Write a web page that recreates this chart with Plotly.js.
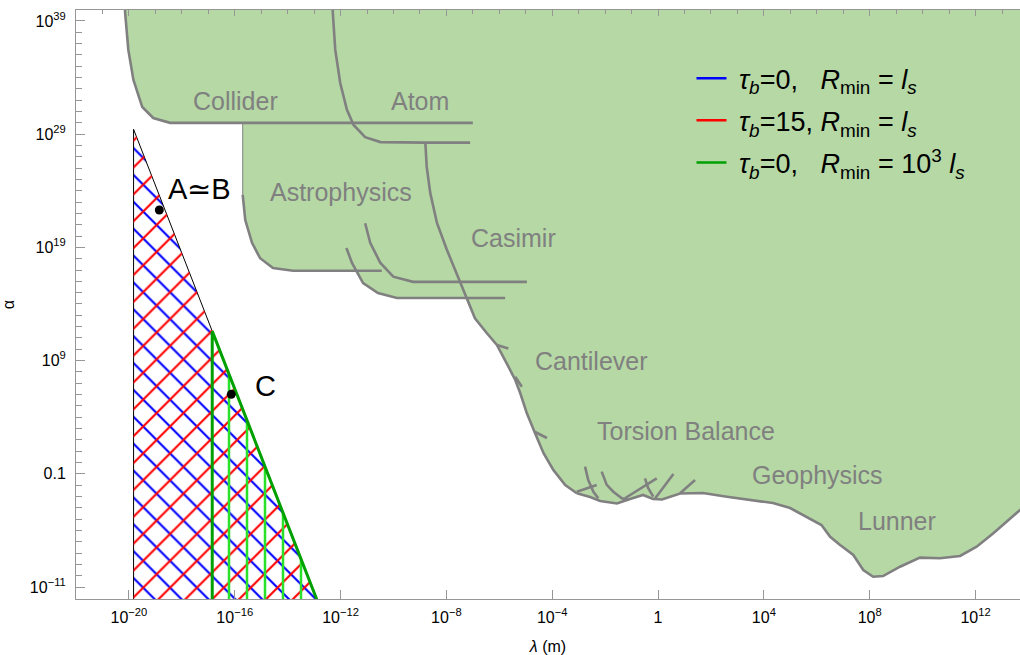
<!DOCTYPE html>
<html><head><meta charset="utf-8">
<script src="https://cdn.plot.ly/plotly-3.0.1.min.js"></script>
<style>html,body{margin:0;padding:0;background:#fff}#chart{width:1020px;height:655px}</style>
</head><body><div id="chart"></div>
<script>
// ---- experimental exclusion curves (lambda in m, alpha) ----
const colliderLambda = [7.0e-21, 7.2e-21, 9.5e-21, 1.48e-20, 3.2e-20, 8.3e-20, 3.6e-19, 1.0e-7];
const colliderAlpha  = [3e40, 5.1e39, 2.8e36, 6.2e33, 2.5e31, 2.7e30, 1e30, 1e30];

const atomLambda = [5.0e-13, 5.1e-13, 6.3e-13, 9.7e-13, 1.74e-12, 3.1e-12, 8.5e-12, 3.2e-11, 1.6e-9, 7.9e-8];
const atomAlpha  = [3e40, 4.8e39, 2.8e36, 3.3e33, 1.4e31, 6.5e29, 5.4e28, 2.0e28, 1.8e28, 1.8e28];

const astroLambda = [2.0e-16, 2.5e-16, 4.5e-16, 9.1e-16, 2.8e-15, 1.6e-14, 3.6e-11];
const astroAlpha  = [4.3e23, 2.6e21, 2.5e19, 1.1e18, 1.5e17, 8.7e16, 8.7e16];

const astroLowerALambda = [1.66e-12, 2.7e-12, 7.1e-12, 2.6e-11, 1.35e-10, 1.66e-6];
const astroLowerAAlpha  = [8.9e18, 4.2e17, 7.1e15, 9.3e14, 3.4e14, 3.4e14];

const astroLowerBLambda = [8.5e-12, 1.32e-11, 3.2e-11, 9.8e-11, 5.5e-10, 1.1e-5];
const astroLowerBAlpha  = [1.35e21, 2.5e19, 4.2e17, 2.6e16, 9.0e15, 9.0e15];

const casimirLambda = [1.6e-9, 1.8e-9, 2.45e-9, 4.4e-9, 1.05e-8, 2.75e-8, 5.9e-8, 1.2e-7, 3.4e-7, 8.1e-7, 1.9e-6, 4.0e-6, 6.2e-6, 1.1e-5, 2.25e-5, 4.7e-5, 1.1e-4, 3.1e-4, 8.5e-4];
const casimirAlpha  = [1.8e28, 1.35e26, 6.5e23, 1.45e21, 5.9e18, 2.6e16, 4.4e14, 5.5e12, 2.6e11, 2.4e10, 5.8e8, 1.95e7, 1.3e6, 2.2e4, 380, 6.5, 0.22, 0.0102, 1.9e-3];

const cantileverTickLambda = [8.1e-7, 2.2e-6, null, 4.0e-6, 7.1e-6, null, 2.25e-5, 6.3e-5];
const cantileverTickAlpha  = [2.4e10, 1.2e10, null, 3.8e7, 4.9e6, null, 490, 145];

const lowerLambda = [8.5e-4, 2.7e-3, 6.5e-3, 0.028, 0.087, 0.27, 0.65, 1.41, 6.8, 50, 400, 3.9e3, 2.2e4, 9.8e4, 3.1e5, 1.5e6, 3.2e6, 7.6e6, 2.4e7, 5.7e7, 1.35e8, 3.2e8, 1.4e9, 7.9e9, 4.5e10, 2.6e11, 1.1e12, 4.7e12, 4.8e13, 2.7e14];
const lowerAlpha  = [1.9e-3, 8.9e-4, 4.0e-4, 2.4e-4, 5.9e-4, 1.35e-3, 5.9e-4, 5.4e-4, 1.8e-3, 2.0e-3, 9.5e-4, 4.9e-4, 2.6e-4, 9.5e-5, 2.3e-5, 3.0e-6, 2.75e-7, 5.1e-8, 6.8e-9, 3.2e-10, 8.1e-11, 9.3e-11, 6.2e-10, 3.9e-9, 3.5e-9, 5.5e-9, 3.6e-8, 5.5e-7, 6.3e-5, 2.0e-3];

const torsionLambda = [1.74e-3, 2.3e-3, 3.6e-3, 5.5e-3, null, 8.5e-4, 4.8e-3, null, 7.4e-3, 0.0115, 0.0204, 0.0427, 0.076, null, 0.056, 0.89, null, 0.32, 0.42, 0.66, null, 0.77, 3.8, null, 6.8, 25];
const torsionAlpha  = [0.43, 0.028, 2.6e-3, 6.9e-4, null, 2.6e-3, 0.0102, null, 0.155, 0.0105, 2.6e-3, 6.9e-4, 4.9e-4, null, 6.9e-4, 0.040, null, 0.040, 5.6e-3, 9.5e-4, null, 6.6e-4, 0.095, null, 1.9e-3, 0.028];

// ---- excluded (shaded) union region, assembled from the curves ----
const exclLambda = colliderLambda.slice(0, 7)
  .concat([2.0e-16], astroLambda.slice(0, 6), [3.9e-12], astroLowerALambda.slice(2, 5), [6.2e-8],
          casimirLambda.slice(7), lowerLambda.slice(1), [1e16, 1e16, 7.0e-21]);
const exclAlpha = colliderAlpha.slice(0, 7)
  .concat([1e30], astroAlpha.slice(0, 6), [8.7e16], astroLowerAAlpha.slice(2, 5), [3.4e14],
          casimirAlpha.slice(7), lowerAlpha.slice(1), [2e-3, 1e42, 1e42]);

// ---- theory regions (hatched) ----
const hatchLambda = [1.5e-20, 1.78e-13, 1.5e-20, 1.5e-20];
const hatchAlpha  = [2.7e29, 1e-13, 1e-13, 2.7e29];
const greenLambda = [1.41e-17, 1.78e-13, 1.41e-17, 1.41e-17];
const greenAlpha  = [4e11, 1e-13, 1e-13, 4e11];

// ---- benchmark points ----
const pointLambda = [1.41e-19, 7.4e-17];
const pointAlpha  = [2e22, 1.05e6];
const pointLabels = ['A≃B', 'C'];

// ---- legend names ----
const legendNames = [
  '\u00a0<i>τ</i><sub><i>b</i></sub>=0,\u00a0\u00a0\u00a0<i>R</i><sub>min</sub> = <i>l</i><sub><i>s</i></sub>',
  '\u00a0<i>τ</i><sub><i>b</i></sub>=15, <i>R</i><sub>min</sub> = <i>l</i><sub><i>s</i></sub>',
  '\u00a0<i>τ</i><sub><i>b</i></sub>=0,\u00a0\u00a0\u00a0<i>R</i><sub>min</sub> = 10<sup>3</sup> <i>l</i><sub><i>s</i></sub>'
];
const legendColors = ['#0000ff', '#ff0000', '#00a000'];

// ---- ticks ----
const xTickVals = [1e-20, 1e-16, 1e-12, 1e-8, 1e-4, 1, 1e4, 1e8, 1e12];
const xTickText = ['10<sup>−20</sup>', '10<sup>−16</sup>', '10<sup>−12</sup>', '10<sup>−8</sup>', '10<sup>−4</sup>', '1', '10<sup>4</sup>', '10<sup>8</sup>', '10<sup>12</sup>'];
const yTickVals = [1e-11, 0.1, 1e9, 1e19, 1e29, 1e39];
const yTickText = ['10<sup>−11</sup>', '0.1', '10<sup>9</sup>', '10<sup>19</sup>', '10<sup>29</sup>', '10<sup>39</sup>'];
const xMinor = []; for (let e = -22; e <= 14; e++) xMinor.push(Math.pow(10, e));
const yMinor = []; for (let e = -12; e <= 40; e++) yMinor.push(Math.pow(10, e));

const GRAY = 'rgb(128,128,128)';
const AXC = 'rgb(150,150,150)';
const FONT = 'Liberation Sans, Arial, sans-serif';

const traces = [];
traces.push({x: exclLambda, y: exclAlpha, mode: 'lines', fill: 'toself', fillcolor: 'rgb(181,216,165)',
  line: {color: GRAY, width: 1}, showlegend: false, hoverinfo: 'skip'});
const curves = [[colliderLambda, colliderAlpha], [atomLambda, atomAlpha], [astroLambda, astroAlpha],
  [astroLowerALambda, astroLowerAAlpha], [astroLowerBLambda, astroLowerBAlpha], [casimirLambda, casimirAlpha],
  [cantileverTickLambda, cantileverTickAlpha], [lowerLambda, lowerAlpha], [torsionLambda, torsionAlpha]];
curves.forEach(c => traces.push({x: c[0], y: c[1], mode: 'lines', line: {color: GRAY, width: 2.6},
  connectgaps: false, showlegend: false, hoverinfo: 'skip'}));

traces.push({x: hatchLambda, y: hatchAlpha, mode: 'lines', fill: 'toself', fillcolor: 'rgba(0,0,0,0)',
  fillpattern: {shape: '\\', fgcolor: legendColors[0], bgcolor: 'rgba(0,0,0,0)', size: 19, solidity: 0.11, fillmode: 'replace'},
  line: {color: '#000', width: 1}, showlegend: false, hoverinfo: 'skip'});
traces.push({x: hatchLambda, y: hatchAlpha, mode: 'lines', fill: 'toself', fillcolor: 'rgba(0,0,0,0)',
  fillpattern: {shape: '/', fgcolor: legendColors[1], bgcolor: 'rgba(0,0,0,0)', size: 19, solidity: 0.11, fillmode: 'replace'},
  line: {color: 'rgba(0,0,0,0)', width: 0}, showlegend: false, hoverinfo: 'skip'});
traces.push({x: greenLambda, y: greenAlpha, mode: 'lines', fill: 'toself', fillcolor: 'rgba(0,0,0,0)',
  fillpattern: {shape: '|', fgcolor: 'rgb(40,225,40)', bgcolor: 'rgba(0,0,0,0)', size: 18, solidity: 0.14, fillmode: 'replace'},
  line: {color: legendColors[2], width: 3}, showlegend: false, hoverinfo: 'skip'});

traces.push({x: pointLambda, y: pointAlpha, mode: 'markers', marker: {color: '#000', size: 9},
  showlegend: false, hoverinfo: 'skip'});

legendNames.forEach((n, i) => traces.push({x: [null], y: [null], mode: 'lines', name: n,
  line: {color: legendColors[i], width: 2.5}, legendgroup: 'g' + i, hoverinfo: 'skip'}));

// invisible trace carrying the top (mirror) axis
traces.push({x: [null], y: [null], xaxis: 'x2', mode: 'markers', showlegend: false, hoverinfo: 'skip'});

const regionLabels = [
  ['Collider', -15.98, 31.93], ['Atom', -8.99, 31.93], ['Astrophysics', -11.98, 23.89],
  ['Casimir', -5.48, 19.83], ['Cantilever', -2.53, 8.96], ['Torsion Balance', 1.06, 2.78],
  ['Geophysics', 6.04, -1.11], ['Lunner', 9.03, -5.17]
];
const annotations = regionLabels.map(r => ({text: r[0], x: r[1], y: r[2], xref: 'x', yref: 'y',
  showarrow: false, font: {size: 25, color: GRAY, family: FONT}}));
annotations.push({text: pointLabels[0], x: -17.34, y: 24.16, xref: 'x', yref: 'y', showarrow: false,
  font: {size: 29, color: '#000', family: FONT}});
annotations.push({text: pointLabels[1], x: -14.85, y: 6.76, xref: 'x', yref: 'y', showarrow: false,
  font: {size: 29, color: '#000', family: FONT}});

const layout = {
  width: 1020, height: 655,
  margin: {l: 76, r: 0, t: 10, b: 56},
  paper_bgcolor: '#fff', plot_bgcolor: '#fff',
  font: {family: FONT, size: 16, color: '#000'},
  hovermode: false,
  xaxis: {type: 'log', range: [-22, 13.68], showgrid: false, zeroline: false,
    showline: true, linecolor: AXC, linewidth: 1, ticks: 'inside', ticklen: 9, tickcolor: AXC,
    tickvals: xTickVals, ticktext: xTickText, ticklabelstandoff: 4, tickfont: {size: 16},
    title: {text: '<i>λ</i> (m)', font: {size: 16}, standoff: 18}},
  xaxis2: {type: 'log', range: [-22, 13.68], overlaying: 'x', side: 'top', anchor: 'y', showgrid: false, zeroline: false,
    showline: true, linecolor: AXC, linewidth: 1, ticks: 'inside', ticklen: 6, tickcolor: AXC,
    tickvals: xTickVals, showticklabels: false,
    minor: {tickvals: xMinor, ticks: 'inside', ticklen: 4, tickcolor: AXC}},
  yaxis: {type: 'log', range: [-12.06, 39.97], showgrid: false, zeroline: false,
    showline: true, linecolor: AXC, linewidth: 1, ticks: 'inside', ticklen: 9, tickcolor: AXC,
    tickvals: yTickVals, ticktext: yTickText, ticklabelstandoff: 6, tickfont: {size: 16},
    minor: {tickvals: yMinor, ticks: 'inside', ticklen: 6, tickcolor: AXC},
    title: {text: 'α', font: {size: 16}, standoff: 12}},
  legend: {x: 0.652, y: 0.925, xanchor: 'left', yanchor: 'top', bgcolor: 'rgba(0,0,0,0)',
    font: {size: 27, color: '#000', family: FONT},
    tracegroupgap: 4, itemwidth: 30},
  annotations: annotations,
  showlegend: true
};

Plotly.newPlot('chart', traces, layout, {displayModeBar: false, staticPlot: true});
</script></body></html>
